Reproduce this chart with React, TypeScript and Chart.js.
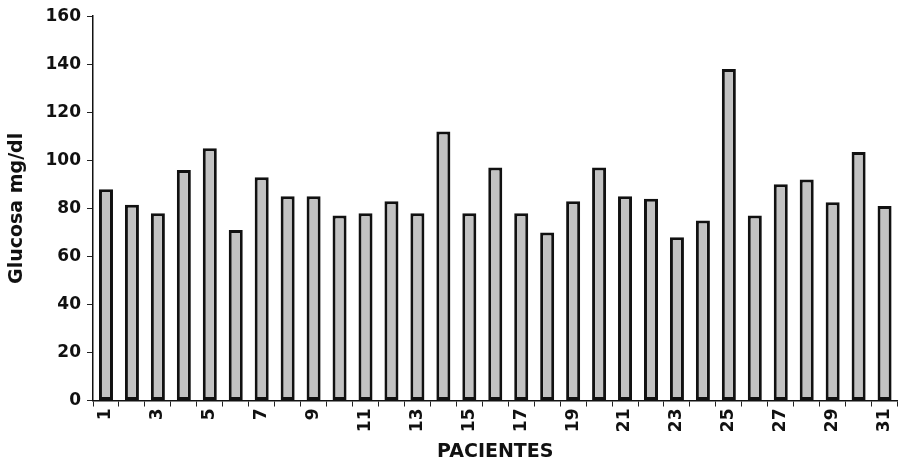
import React, { useEffect, useRef } from "react";
import { Chart, registerables } from "chart.js";

Chart.register(...registerables);

const pacientes: string[] = Array.from({ length: 31 }, (_, i) => String(i + 1));
const glucosa: number[] = [
  88, 81.5, 78, 96, 105, 71, 93, 85, 85, 77, 78, 83, 78, 112, 78, 97,
  78, 70, 83, 97, 85, 84, 68, 75, 138, 77, 90, 92, 82.5, 103.5, 81,
];
const yTicks = { min: 0, max: 160, step: 20 };

export default function App() {
  const ref = useRef<HTMLCanvasElement | null>(null);
  useEffect(() => {
    document.body.style.margin = "0";
    const ctx = ref.current!.getContext("2d")!;
    const font = "'DejaVu Sans', Arial, sans-serif";
    const chart = new Chart(ctx, {
      type: "bar",
      data: {
        labels: pacientes,
        datasets: [
          {
            data: glucosa,
            backgroundColor: "#c2c2c2",
            borderColor: "#111111",
            borderWidth: 3,
            borderSkipped: false,
            barPercentage: 0.54,
            categoryPercentage: 1,
          },
        ],
      },
      options: {
        animation: false,
        responsive: false,
        maintainAspectRatio: false,
        layout: { padding: { left: 6, right: 2, top: 16, bottom: 4 } },
        plugins: { legend: { display: false }, tooltip: { enabled: false } },
        scales: {
          x: {
            grid: {
              offset: true,
              drawOnChartArea: false,
              drawTicks: true,
              tickLength: 6,
              color: "#222",
              lineWidth: 1,
            },
            border: { display: true, color: "#111", width: 1.5 },
            ticks: {
              autoSkip: false,
              minRotation: 90,
              maxRotation: 90,
              color: "#111",
              padding: 2,
              font: { family: font, size: 17, weight: "bold" },
              callback: (_v: any, i: number) => (i % 2 === 0 ? pacientes[i] : ""),
            },
            title: {
              display: true,
              text: "PACIENTES",
              color: "#111",
              padding: { top: 6, bottom: 0 },
              font: { family: font, size: 19, weight: "bold" },
            },
          },
          y: {
            min: yTicks.min,
            max: yTicks.max,
            grid: {
              drawOnChartArea: false,
              drawTicks: true,
              tickLength: 6,
              color: "#222",
            },
            border: { display: true, color: "#111", width: 1.5 },
            ticks: {
              stepSize: yTicks.step,
              color: "#111",
              padding: 6,
              font: { family: font, size: 17, weight: "bold" },
            },
            title: {
              display: true,
              text: "Glucosa mg/dl",
              color: "#111",
              padding: { top: 0, bottom: 8 },
              font: { family: font, size: 19, weight: "bold" },
            },
            afterFit: (s: any) => {
              s.width = 87;
            },
          },
        },
      },
    });
    return () => chart.destroy();
  }, []);
  return (
    <div style={{ position: "fixed", left: 0, top: 0, width: 907, height: 467 }}>
      <canvas ref={ref} width={907} height={467} />
    </div>
  );
}
